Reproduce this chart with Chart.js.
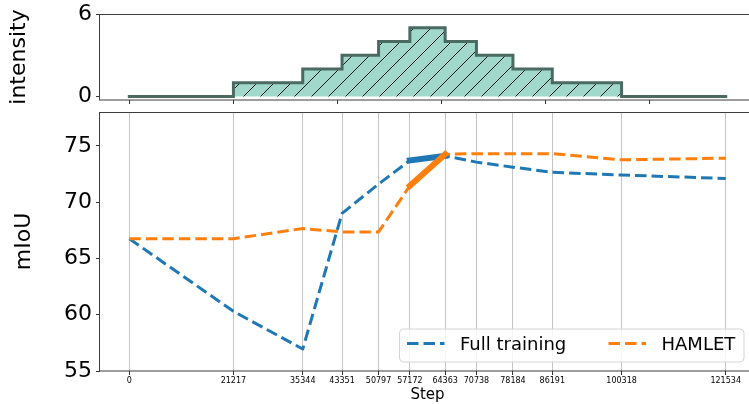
<!DOCTYPE html>
<html>
<head>
<meta charset="utf-8">
<script src="https://cdn.jsdelivr.net/npm/chart.js@4.4.1/dist/chart.umd.min.js"></script>
<style>
  html, body { margin: 0; padding: 0; background: #fff; overflow: hidden; width: 749px; height: 404px; }
  #wrap { position: relative; width: 749px; height: 404px; overflow: hidden; }
  canvas { position: absolute; left: 0; }
  #bottom { top: 104px; z-index: 1; }
  #top { top: 0; z-index: 2; }
</style>
</head>
<body>
<div id="wrap">
  <canvas id="bottom" width="760" height="300"></canvas>
  <canvas id="top" width="760" height="120"></canvas>
</div>
<script>
// Training steps at which the schedule changes
const steps = [0, 21217, 35344, 43351, 50797, 57172, 64363, 70738, 78184, 86191, 100318, 121534];
// Intensity level held from each step until the next one
const intensity = [0, 1, 2, 3, 4, 5, 4, 3, 2, 1, 0, 0];
// mIoU of both runs at every step
const fullTraining = [66.75, 60.3, 56.95, 69.0, 71.6, 73.7, 74.1, 73.55, 73.1, 72.65, 72.4, 72.1];
const hamlet = [66.75, 66.75, 67.65, 67.35, 67.35, 71.45, 74.25, 74.3, 74.3, 74.3, 73.75, 73.9];
// Peak-intensity interval, drawn as a bold solid segment
const peakSteps = [57172, 64363];
const peakFull = [73.7, 74.1];
const peakHamlet = [71.45, 74.25];
// Tick values
const intensityTicks = [0, 6];
const miouTicks = [55, 60, 65, 70, 75];
const topStepTicks = [0, 21217, 42434, 63651, 84868, 106085, 127302];
const legendLabels = ['Full training', 'HAMLET'];

const BLUE = '#1f77b4', ORANGE = '#ff7f0e';
const X_MIN = -5971, X_MAX = 127505;
const FONT = 'DejaVu Sans';

Chart.defaults.font.family = FONT;
Chart.defaults.color = '#000';

function pts(xs, ys) { return xs.map((x, i) => ({ x: x, y: ys[i] })); }
function setTicks(values) { return function (scale) { scale.ticks = values.map(v => ({ value: v })); }; }
function fixX(h) { return function (scale) { scale.height = h; scale.paddingLeft = 0; scale.paddingRight = 0; }; }
function fixY(w) { return function (scale) { scale.width = w; scale.paddingTop = 0; scale.paddingBottom = 0; }; }
const plainLabel = v => String(v);

// Box around the plotting area
const frame = {
  id: 'frame',
  afterDraw(chart) {
    const a = chart.chartArea, ctx = chart.ctx;
    ctx.save();
    ctx.strokeStyle = '#3d3d3d';
    ctx.lineWidth = 1;
    ctx.strokeRect(Math.round(a.left) - 0.5, Math.round(a.top) + 0.5,
                   Math.round(a.right - a.left), Math.round(a.bottom - a.top) - 0.5);
    ctx.restore();
  }
};

// Hatched teal fill for the intensity profile
function hatchPattern(target) {
  const s = 17;
  const c = document.createElement('canvas');
  c.width = s; c.height = s;
  const g = c.getContext('2d');
  g.fillStyle = '#a0d9cb';
  g.fillRect(0, 0, s, s);
  g.strokeStyle = '#000';
  g.lineWidth = 0.9;
  g.beginPath();
  g.moveTo(-1, s + 1); g.lineTo(s + 1, -1);
  g.moveTo(-1, 1); g.lineTo(1, -1);
  g.moveTo(s - 1, s + 1); g.lineTo(s + 1, s - 1);
  g.stroke();
  return target.getContext('2d').createPattern(c, 'repeat');
}

const tickGrid = { display: true, drawOnChartArea: false, drawTicks: true, tickLength: 4, tickColor: '#333', tickWidth: 1 };

// ---- intensity panel ----
const topCanvas = document.getElementById('top');
new Chart(topCanvas, {
  type: 'line',
  data: {
    datasets: [{
      label: 'intensity',
      data: pts(steps, intensity),
      stepped: 'before',
      borderColor: '#4a6a62',
      borderWidth: 3,
      borderCapStyle: 'square',
      borderJoinStyle: 'miter',
      backgroundColor: hatchPattern(topCanvas),
      fill: 'origin',
      pointRadius: 0,
      tension: 0
    }]
  },
  options: {
    responsive: false,
    animation: false,
    events: [],
    layout: { padding: { top: 14, right: 5, left: 0, bottom: 0 } },
    plugins: { legend: { display: false }, tooltip: { enabled: false } },
    scales: {
      x: {
        type: 'linear', min: X_MIN, max: X_MAX,
        afterBuildTicks: setTicks(topStepTicks),
        afterFit: fixX(20),
        grid: tickGrid,
        border: { display: false },
        ticks: { display: false }
      },
      y: {
        type: 'linear', min: -0.26, max: 6,
        afterBuildTicks: setTicks(intensityTicks),
        afterFit: fixY(100),
        grid: tickGrid,
        border: { display: false },
        ticks: { font: { size: 22 }, color: '#000', padding: 4, callback: plainLabel },
        title: { display: true, text: 'intensity', font: { size: 22 }, color: '#000', padding: { top: 6, bottom: 0 } }
      }
    }
  },
  plugins: [frame]
});

// Legend drawn inside the lower right corner of the mIoU panel
const miouLegend = {
  id: 'miouLegend',
  afterDraw(chart) {
    const a = chart.chartArea, ctx = chart.ctx;
    const right = a.right - 11, bottom = a.bottom - 9;
    const left = 399.5, top = bottom - 33;
    const r = 4;
    ctx.save();
    ctx.beginPath();
    ctx.moveTo(left + r, top);
    ctx.lineTo(right - r, top); ctx.arcTo(right, top, right, top + r, r);
    ctx.lineTo(right, bottom - r); ctx.arcTo(right, bottom, right - r, bottom, r);
    ctx.lineTo(left + r, bottom); ctx.arcTo(left, bottom, left, bottom - r, r);
    ctx.lineTo(left, top + r); ctx.arcTo(left, top, left + r, top, r);
    ctx.closePath();
    ctx.fillStyle = 'rgba(255,255,255,0.85)';
    ctx.fill();
    ctx.strokeStyle = '#d4d4d4';
    ctx.lineWidth = 1;
    ctx.stroke();

    const cy = top + 14.5;
    const entries = [
      { x: 407, label: legendLabels[0], color: BLUE },
      { x: 608.5, label: legendLabels[1], color: ORANGE }
    ];
    ctx.font = '18px "' + FONT + '"';
    ctx.textBaseline = 'alphabetic';
    ctx.textAlign = 'left';
    for (const e of entries) {
      ctx.beginPath();
      ctx.setLineDash([11.5, 5]);
      ctx.lineCap = 'butt';
      ctx.strokeStyle = e.color;
      ctx.lineWidth = 3;
      ctx.moveTo(e.x, cy);
      ctx.lineTo(e.x + 37.5, cy);
      ctx.stroke();
      ctx.setLineDash([]);
      ctx.fillStyle = '#000';
      ctx.fillText(e.label, e.x + 53, cy + 6.8);
    }
    ctx.restore();
  }
};

// ---- mIoU panel ----
const dashed = { borderWidth: 3, borderDash: [11.5, 5], borderCapStyle: 'butt', borderJoinStyle: 'round', pointRadius: 0, tension: 0, fill: false };
const bold = { borderWidth: 6, borderCapStyle: 'square', borderJoinStyle: 'round', pointRadius: 0, tension: 0, fill: false };

new Chart(document.getElementById('bottom'), {
  type: 'line',
  data: {
    datasets: [
      Object.assign({ label: 'HAMLET (peak)', data: pts(peakSteps, peakHamlet), borderColor: ORANGE, order: 0 }, bold),
      Object.assign({ label: 'Full training (peak)', data: pts(peakSteps, peakFull), borderColor: BLUE, order: 1 }, bold),
      Object.assign({ label: 'HAMLET', data: pts(steps, hamlet), borderColor: ORANGE, order: 2 }, dashed),
      Object.assign({ label: 'Full training', data: pts(steps, fullTraining), borderColor: BLUE, order: 3 }, dashed)
    ]
  },
  options: {
    responsive: false,
    animation: false,
    events: [],
    layout: { padding: { top: 8, right: 5, left: 0, bottom: 0 } },
    plugins: { legend: { display: false }, tooltip: { enabled: false } },
    scales: {
      x: {
        type: 'linear', min: X_MIN, max: X_MAX,
        afterBuildTicks: setTicks(steps),
        afterFit: fixX(33),
        grid: { display: true, drawOnChartArea: true, drawTicks: true, tickLength: 4, color: '#c4c4c4', lineWidth: 1, tickColor: '#333' },
        border: { display: false },
        ticks: { font: { size: 8 }, color: '#000', padding: 1, autoSkip: false, maxRotation: 0, minRotation: 0, callback: plainLabel },
        title: { display: true, text: 'Step', font: { size: 15 }, color: '#000', padding: { top: 0, bottom: 0 } }
      },
      y: {
        type: 'linear', min: 55, max: 78,
        afterBuildTicks: setTicks(miouTicks),
        afterFit: fixY(100),
        grid: tickGrid,
        border: { display: false },
        ticks: { font: { size: 22 }, color: '#000', padding: 4, callback: plainLabel },
        title: { display: true, text: 'mIoU', font: { size: 22 }, color: '#000', padding: { top: 11, bottom: 0 } }
      }
    }
  },
  plugins: [frame, miouLegend]
});
</script>
</body>
</html>
